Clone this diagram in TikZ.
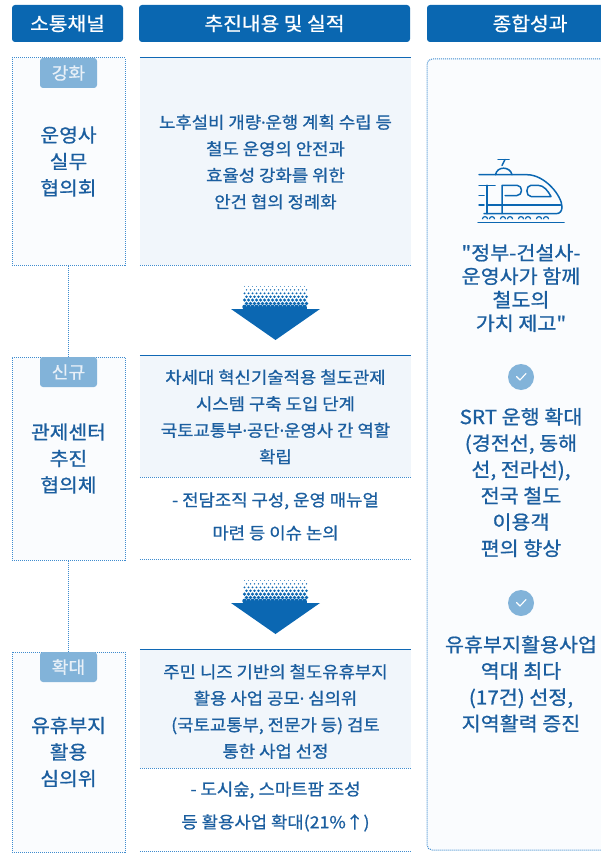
\documentclass[tikz,border=0pt]{standalone}
\usepackage{fontspec}
\setmainfont{Noto Sans CJK KR}[Ligatures=TeXOff, FakeBold=0.9, FakeStretch=1.07]
\newfontfamily\dotfont{Noto Sans}[FakeBold=0.9]
\newcommand{\mdot}{{\dotfont ·}}
\definecolor{hdr}{HTML}{0A67B1}
\definecolor{txtc}{HTML}{1B5E9F}
\definecolor{tagfill}{HTML}{82B3D9}
\definecolor{tagtxt}{HTML}{E8F0F8}
\definecolor{dotc}{HTML}{3F8CCF}
\definecolor{midfill}{HTML}{F1F6FB}
\definecolor{palefill}{HTML}{FAFCFE}
\definecolor{topc}{HTML}{1068B5}
\definecolor{arrc}{HTML}{0B67B2}
\tikzset{
  hdrbox/.style={fill=hdr, rounded corners=3pt, inner sep=0pt, minimum height=37pt, text=white, font=\fontsize{19}{22}\selectfont},
  lbox/.style={draw=dotc, line width=1pt, dash pattern=on 1pt off 1pt, fill=palefill, inner sep=0pt, minimum width=113pt, align=center, text=txtc, font=\fontsize{19}{26.5}\selectfont},
  tagbox/.style={fill=tagfill, rounded corners=3pt, inner sep=0pt, minimum width=57pt, minimum height=30pt, text=tagtxt, font=\fontsize{17}{20}\selectfont},
  mbox/.style={fill=midfill, inner sep=0pt, minimum width=271pt},
  wbox/.style={inner sep=0pt, minimum width=271pt},
  mtext/.style={inner sep=0pt, align=center, text=txtc, font=\fontsize{16.6}{26.5}\selectfont},
  mtextb/.style={inner sep=0pt, align=center, text=txtc, font=\fontsize{16.6}{33}\selectfont},
  rtext/.style={inner sep=0pt, align=center, text=txtc, font=\fontsize{19.3}{26.3}\selectfont},
  dotline/.style={draw=dotc, line width=1pt, dash pattern=on 1pt off 1pt},
  topline/.style={draw=topc, line width=1.3pt},
  checkc/.style={circle, fill=tagfill, minimum size=26pt, inner sep=0pt},
  trainln/.style={draw=arrc, line width=1.5pt, line cap=round, line join=round},
}
\newcommand{\drawdownarrow}[1]{%
  \foreach \j in {0,...,6}{%
    \pgfmathsetmacro{\yy}{#1+1.5+3.4*\j}%
    \pgfmathsetmacro{\rr}{0.45+0.3*\j}%
    \pgfmathsetmacro{\off}{mod(\j,2)*2}%
    \foreach \i in {0,...,15}{%
      \fill[arrc] ({244.5+4*\i+\off},\yy) circle[radius=\rr pt];
    }
  }
  \fill[arrc] (243.3,#1+21.5) rectangle (306.7,#1+24.5);
  \fill[arrc] (231,#1+24) -- (320,#1+24) -- (275.5,#1+55) -- cycle;
}
\begin{document}
\begin{tikzpicture}[x=1pt,y=-1pt]
\useasboundingbox (0,0) rectangle (601,853);
% headers
\node[hdrbox, minimum width=111pt] (h1) at (67.5,23.5) {소통채널};
\node[hdrbox, minimum width=271pt] (h2) at (274.5,23.5) {추진내용 및 실적};
\node[hdrbox, minimum width=206pt] (h3) at (530,23.5) {종합성과};
% right column
\node[draw=dotc, line width=1pt, dash pattern=on 1pt off 1pt, fill=palefill, rounded corners=5pt, inner sep=0pt, minimum width=200pt, minimum height=791pt] (r) at (527,454.5) {};
% left boxes
\node[lbox, minimum height=207pt] (l1) at (68.5,161.5) {운영사\\실무\\협의회};
\node[lbox, minimum height=203pt] (l2) at (68.5,458.5) {관제센터\\추진\\협의체};
\node[lbox, minimum height=200pt] (l3) at (68.5,752) {유휴부지\\활용\\심의위};
\draw[dotline] (l1.south) -- (l2.north);
\draw[dotline] (l2.south) -- (l3.north);
\node[tagbox] (t1) at (68.5,73) {강화};
\node[tagbox] (t2) at (68.5,372) {신규};
\node[tagbox] (t3) at (68.5,667) {확대};
% middle boxes
\node[mbox, minimum height=207pt] (m1) at (275.5,161.5) {};
\node[mbox, minimum height=121pt] (m2a) at (275.5,416.5) {};
\node[wbox, minimum height=82pt] (m2b) at (275.5,518) {};
\node[mbox, minimum height=118pt] (m3a) at (275.5,709) {};
\node[wbox, minimum height=83pt] (m3b) at (275.5,809.5) {};
\foreach \b in {m1,m2a,m3a}{\draw[topline] (\b.north west) -- (\b.north east);}
\foreach \b in {m1,m2a,m2b,m3a,m3b}{\draw[dotline] (\b.south west) -- (\b.south east);}
\node[mtext] (x1) at (275.5,162) {노후설비 개량\mdot 운행 계획 수립 등\\철도 운영의 안전과\\효율성 강화를 위한\\안건 협의 정례화};
\node[mtext] (x2) at (275.5,417) {차세대 혁신기술적용 철도관제\\시스템 구축 도입 단계\\국토교통부\mdot 공단\mdot 운영사 간 역할\\확립};
\node[mtextb] (x2b) at (275.5,516.5) {- 전담조직 구성, 운영 매뉴얼\\마련 등 이슈 논의};
\node[mtext] (x3) at (275.5,711.5) {주민 니즈 기반의 철도유휴부지\\활용 사업 공모\mdot{} 심의위\\(국토교통부, 전문가 등) 검토\\통한 사업 선정};
\node[mtextb] (x3b) at (275.5,806.5) {- 도시숲, 스마트팜 조성\\등 활용사업 확대(21\%↑)};
% arrows
\drawdownarrow{285}
\drawdownarrow{579}
% train icon
\draw[trainln] (498,159.5) -- (509,159.5);
\draw[trainln] (505,159.5) -- (502,165.5);
\draw[trainln] (495.5,174.7) .. controls (497,166) and (510,166) .. (512,174.7);
\draw[trainln] (479,174.7) -- (527,174.7) .. controls (545,174.7) and (562,196) .. (562,207) .. controls (562,211) and (560,213.7) .. (556,213.7) -- (484,213.7);
\draw[trainln] (487,185.3) -- (487,213.7);
\draw[trainln] (479,185.3) -- (495,185.3);
\draw[trainln] (479,195.5) -- (484,195.5);
\draw[trainln] (479,205) -- (484,205);
\draw[trainln] (502,213.7) -- (502,185.3) -- (517,185.3) .. controls (523,185.3) and (523,195.5) .. (517,195.5) -- (505,195.5);
\draw[trainln] (531,185.3) -- (538,185.3) .. controls (544,185.3) and (548,191) .. (551,196.5) -- (531,196.5) .. controls (525.5,196.5) and (525.5,185.3) .. (531,185.3);
\draw[trainln] (487,205) -- (560.5,205);
\draw[trainln] (478,222.7) -- (564,222.7);
\foreach \cx in {485,492,503,510,521,528,539,546}{\draw[arrc, line width=1.2pt] (\cx-2.6,219.2) arc[start angle=180, end angle=0, radius=2.6pt];}
% right texts
\node[rtext, font=\fontsize{19.3}{23.5}\selectfont] (rt1) at (521,288) {"정부-건설사-\\운영사가 함께\\철도의\\가치 제고"};
\node[checkc] (c1) at (521,377) {};
\draw[white, line width=1.1pt, line cap=round, line join=round] ([shift={(-4.5pt,0.5pt)}]c1.center) -- ([shift={(-1pt,-3pt)}]c1.center) -- ([shift={(5pt,3.5pt)}]c1.center);
\node[rtext] (rt2) at (521,482.5) {SRT 운행 확대\\(경전선, 동해\\선, 전라선),\\전국 철도\\이용객\\편의 향상};
\node[checkc] (c2) at (521,603) {};
\draw[white, line width=1.1pt, line cap=round, line join=round] ([shift={(-4.5pt,0.5pt)}]c2.center) -- ([shift={(-1pt,-3pt)}]c2.center) -- ([shift={(5pt,3.5pt)}]c2.center);
\node[rtext] (rt3) at (521,684) {유휴부지활용사업\\역대 최다\\(17건) 선정,\\지역활력 증진};
\end{tikzpicture}
\end{document}
